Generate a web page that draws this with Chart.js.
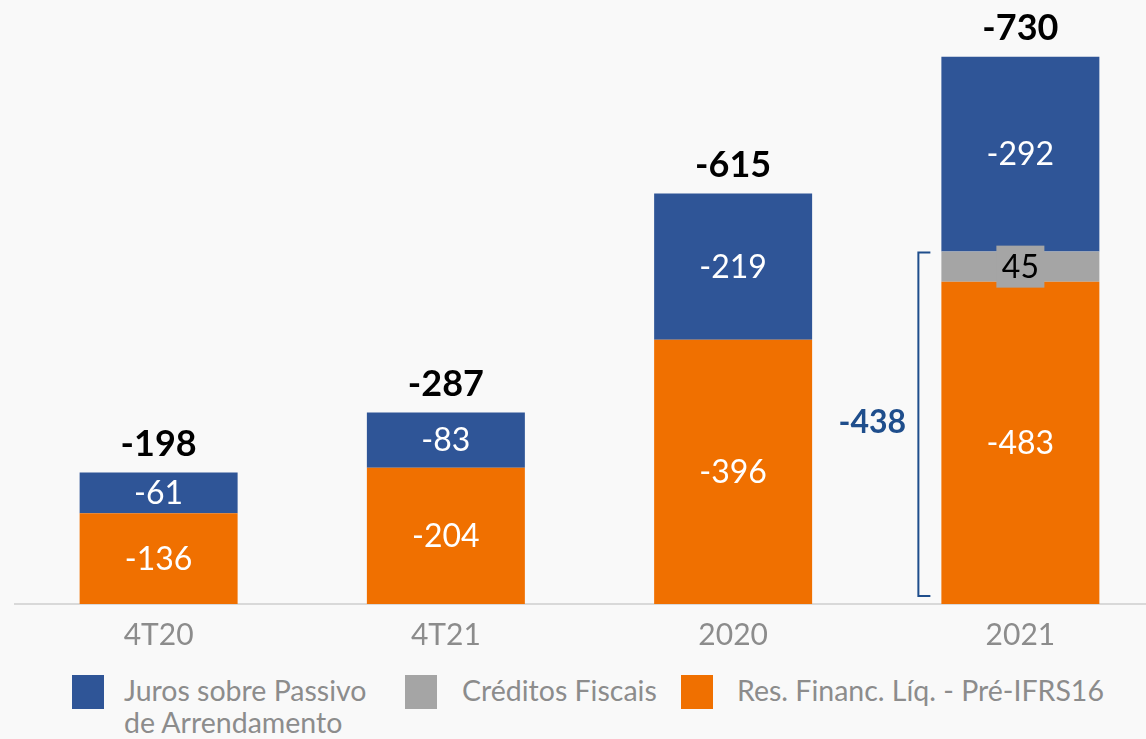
<!DOCTYPE html>
<html>
<head>
<meta charset="utf-8">
<script src="https://cdn.jsdelivr.net/npm/chart.js@4"></script>
<style>
  html, body { margin: 0; padding: 0; background: #f9f9f9; overflow: hidden; }
  #wrap { position: relative; width: 1146px; height: 739px; overflow: hidden; font-family: Lato, sans-serif; }
  #chartBox { position: absolute; left: 0; top: 0; width: 1164px; height: 666px; }
  .leg { position: absolute; top: 674px; color: #8c8c8c; font-size: 28.5px; line-height: 32px; }
  .sw { position: absolute; top: 675px; width: 32px; height: 34px; }
</style>
</head>
<body>
<div id="wrap">
  <div id="chartBox"><canvas id="finChart" width="1164" height="666"></canvas></div>
  <div class="sw" style="left:72px;background:#2f5597"></div>
  <div class="leg" style="left:124px">Juros sobre Passivo<br>de Arrendamento</div>
  <div class="sw" style="left:405px;background:#a5a5a5"></div>
  <div class="leg" style="left:462px">Créditos Fiscais</div>
  <div class="sw" style="left:681px;background:#f07000"></div>
  <div class="leg" style="left:737px">Res. Financ. Líq. - Pré-IFRS16</div>
</div>
<script>
// dados (valores em módulo; rótulos mostram o sinal)
const categories = ['4T20', '4T21', '2020', '2021'];
const resFinanc = [136, 204, 396, 483];
const creditosFiscais = [null, null, null, 45];
const jurosArrend = [61, 83, 219, 292];
const totals = [-198, -287, -615, -730];
const bracketLabel = '-438';

const BLUE = '#2f5597', GRAY = '#a5a5a5', ORANGE = '#f07000';

const labelsPlugin = {
    id: 'barLabels',
    afterDatasetsDraw(chart) {
        const ctx = chart.ctx;
        const y = chart.scales.y;
        ctx.save();
        ctx.textAlign = 'center';
        ctx.textBaseline = 'middle';
        chart.data.datasets.forEach((ds, di) => {
            const meta = chart.getDatasetMeta(di);
            meta.data.forEach((bar, i) => {
                const v = ds.data[i];
                if (v == null) return;
                const cy = (bar.y + bar.base) / 2;
                ctx.font = '32px Lato, sans-serif';
                if (ds.label === 'Créditos Fiscais') {
                    ctx.fillStyle = GRAY;
                    ctx.fillRect(bar.x - 24, cy - 21, 48, 42);
                    ctx.fillStyle = '#000';
                    ctx.fillText(String(v), bar.x, cy + 1);
                } else {
                    ctx.fillStyle = '#fff';
                    ctx.fillText('-' + v, bar.x, cy + 1);
                }
            });
        });
        // totais
        const top = chart.getDatasetMeta(chart.data.datasets.length - 1);
        ctx.fillStyle = '#000';
        ctx.font = 'bold 36px Lato, sans-serif';
        top.data.forEach((bar, i) => {
            ctx.fillText(String(totals[i]), bar.x, bar.y - 28);
        });
        // chave do 2021
        const b = top.data[3];
        const yTop = y.getPixelForValue(resFinanc[3] + creditosFiscais[3]) + 1;
        const yBot = y.getPixelForValue(0) - 8;
        const xL = b.x - 79 - 23, xR = xL + 12;
        ctx.strokeStyle = '#1f4e8c';
        ctx.lineWidth = 2;
        ctx.beginPath();
        ctx.moveTo(xR, yTop); ctx.lineTo(xL, yTop); ctx.lineTo(xL, yBot); ctx.lineTo(xR, yBot);
        ctx.stroke();
        ctx.fillStyle = '#1f4e8c';
        ctx.font = 'bold 32px Lato, sans-serif';
        ctx.fillText(bracketLabel, xL - 46, (yTop + yBot) / 2 - 2);
        ctx.restore();
    }
};

new Chart(document.getElementById('finChart').getContext('2d'), {
    type: 'bar',
    data: {
        labels: categories,
        datasets: [
            { label: 'Res. Financ. Líq. - Pré-IFRS16', data: resFinanc, backgroundColor: ORANGE },
            { label: 'Créditos Fiscais', data: creditosFiscais, backgroundColor: GRAY },
            { label: 'Juros sobre Passivo de Arrendamento', data: jurosArrend, backgroundColor: BLUE }
        ]
    },
    options: {
        responsive: false,
        animation: false,
        layout: { padding: { left: 15, right: 0, top: 0, bottom: 0 } },
        datasets: { bar: { barPercentage: 0.55, categoryPercentage: 1, borderWidth: 0 } },
        plugins: { legend: { display: false }, tooltip: { enabled: false } },
        scales: {
            x: {
                stacked: true,
                grid: { display: false, drawTicks: false },
                border: { display: true, color: '#d9d9d9', width: 2 },
                ticks: { color: '#8c8c8c', font: { family: 'Lato', size: 30 }, padding: 13 }
            },
            y: { stacked: true, display: false, min: 0, max: 905 }
        }
    },
    plugins: [labelsPlugin]
});
</script>
</body>
</html>
